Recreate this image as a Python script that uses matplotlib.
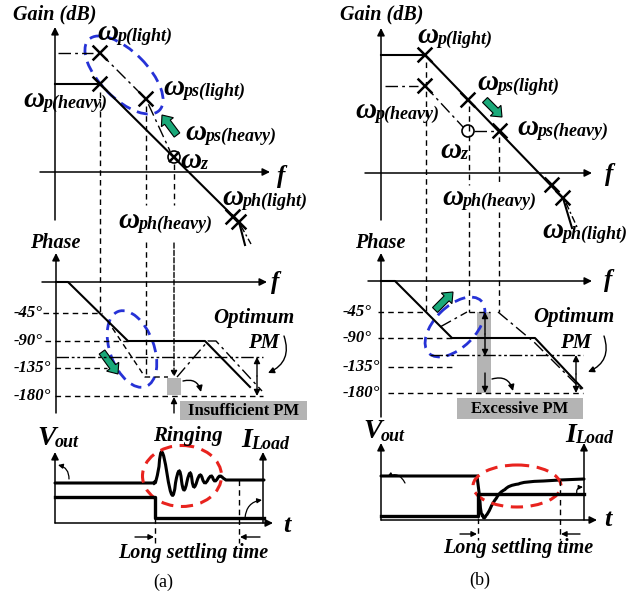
import numpy as np
import matplotlib.pyplot as plt
from matplotlib.patches import Ellipse, Rectangle, FancyArrow, Circle, PathPatch
from matplotlib.path import Path

plt.rcParams['font.family'] = ['Liberation Serif', 'DejaVu Serif']

# all coordinates are pixels of the sketch (y grows downwards)

# ---------------- (a) gain ----------------
a_gain_solid_x = [55, 100, 239, 245]
a_gain_solid_y = [84, 84, 222, 245]
a_gain_light_x = [100, 146, 170]
a_gain_light_y = [53, 99, 151]
a_gain_tail_x = [241, 251]
a_gain_tail_y = [226, 244]
a_gain_cross_x = [100, 100, 146, 233, 239]
a_gain_cross_y = [53, 84, 99, 217, 222]
a_zero = (174, 157)
a_omega_x = [97, 23, 163, 185, 180, 222, 118]
a_omega_y = [40, 107, 95, 140, 168, 205, 228]
a_omega_sub = ['p(light)', 'p(heavy)', 'ps(light)', 'ps(heavy)', 'z', 'ph(light)', 'ph(heavy)']

# ---------------- (b) gain ----------------
b_gain_solid_x = [381, 425, 563, 572]
b_gain_solid_y = [55, 55, 198, 228]
b_gain_heavy_x = [425, 463]
b_gain_heavy_y = [86, 127]
b_gain_tail_x = [566, 577]
b_gain_tail_y = [203, 227]
b_gain_cross_x = [425, 425, 468, 500, 552, 563]
b_gain_cross_y = [55, 86, 100, 131, 185, 198]
b_zero = (468, 131)
b_omega_x = [417, 355, 477, 517, 440, 442, 542]
b_omega_y = [43, 118, 90, 135, 158, 205, 238]
b_omega_sub = ['p(light)', 'p(heavy)', 'ps(light)', 'ps(heavy)', 'z', 'ph(heavy)', 'ph(light)']

# ---------------- phase ----------------
phase_ticks = ['-45°', '-90°', '-135°', '-180°']
a_tick_y = [313, 341, 368, 396]
a_tick_x0 = [43, 45, 55, 55]
a_tick_x1 = [102, 128, 107, 263]
b_tick_y = [312, 338, 367, 393]
b_tick_x0 = [378, 378, 388, 388]
b_tick_x1 = [427, 452, 453, 583]

a_phase_solid_x = [56, 68, 128, 205, 250]
a_phase_solid_y = [282, 282, 341, 341, 387]
a_phase_light_x = [107, 145, 168]
a_phase_light_y = [320, 377, 377]
a_phase_dd_x = [177, 208, 216, 262]
a_phase_dd_y = [377, 341, 341, 391]

b_phase_solid_x = [381, 395, 452, 535, 582]
b_phase_solid_y = [281, 281, 338, 338, 388]
b_phase_heavy_x = [440, 467]
b_phase_heavy_y = [327, 312]
b_phase_dd_x = [498, 535, 584]
b_phase_dd_y = [312, 343, 392]

# ---------------- load transients ----------------
a_ring_x = [55, 153, 156, 162, 172, 179, 184, 190, 194, 200, 205, 211, 215, 220, 226, 264]
a_ring_y = [483, 483, 481, 452, 495, 471, 490, 473, 487, 475, 483, 476, 481, 476, 480, 480]
a_load_x = [55, 155, 155, 264]
a_load_y = [497, 497, 518, 518]

b_vout_x = [381, 477, 479, 481, 484, 488, 493, 500, 510, 527, 560, 584]
b_vout_y = [476, 476, 492, 512, 518, 513, 503, 493, 486, 482, 480, 479]
b_load_x = [381, 478, 478, 584]
b_load_y = [516, 516, 494, 494]

GREEN = '#1aa979'
BLUE = '#2632d6'
RED = '#e8231e'
GREY = '#b4b4b4'
bi = dict(fontweight='bold', style='italic')

fig = plt.figure(figsize=(6.44, 5.96), dpi=100)
ax = fig.add_axes([0, 0, 1, 1])
ax.set_xlim(0, 644)
ax.set_ylim(596, 0)
ax.axis('off')
renderer = fig.canvas.get_renderer()


def arrow(x0, y0, x1, y1, lw=1.1, ms=11, style='-|>', ls='-', cs='arc3'):
    ax.annotate('', xy=(x1, y1), xytext=(x0, y0),
                arrowprops=dict(arrowstyle=style, color='k', lw=lw, mutation_scale=ms,
                                shrinkA=0, shrinkB=0, linestyle=ls, connectionstyle=cs))


def cross(x, y, s=6.5):
    ax.plot([x - s, x + s], [y - s, y + s], color='k', lw=1.8)
    ax.plot([x - s, x + s], [y + s, y - s], color='k', lw=1.8)


def label(x, y, big, sub, fs=21, sfs=13, dy=1):
    t = ax.text(x, y, big, fontsize=fs, va='baseline', ha='left', **bi)
    w = t.get_window_extent(renderer).width
    ax.text(x + w - 1, y + dy, sub, fontsize=sfs, va='baseline', ha='left', **bi)


def smooth(xs, ys, lw=2.0):
    pts = np.column_stack([xs, ys]).astype(float)
    verts = [pts[0], pts[1]]
    codes = [Path.MOVETO, Path.LINETO]
    for i in range(2, len(pts) - 2):
        m1 = (pts[i - 1] + pts[i]) / 2
        m2 = (pts[i] + pts[i + 1]) / 2
        ctrl = 2 * pts[i] - 0.5 * (m1 + m2)
        if i == 2:
            verts.append(m1)
            codes.append(Path.LINETO)
        verts += [ctrl, m2]
        codes += [Path.CURVE3, Path.CURVE3]
    verts += [pts[-2], pts[-1]]
    codes += [Path.LINETO, Path.LINETO]
    ax.add_patch(PathPatch(Path(verts, codes), fill=False, lw=lw, ec='k', capstyle='round'))


DASH = (0, (4, 3))
DASHDOT = (0, (9, 3, 2, 3))
DASHDOTDOT = (0, (9, 2, 2, 2, 2, 2))

# ================= gain plots =================
arrow(55, 220, 55, 27)
arrow(381, 220, 381, 28)
arrow(40, 172, 270, 172)
arrow(365, 173, 592, 173)
ax.text(13, 19, 'Gain (dB)', fontsize=14.5, **bi)
ax.text(340, 19, 'Gain (dB)', fontsize=14.5, **bi)
ax.text(281, 176, 'f', fontsize=18, ha='center', va='center', **bi)
ax.text(609, 175, 'f', fontsize=18, ha='center', va='center', **bi)

# (a)
ax.plot(a_gain_solid_x, a_gain_solid_y, color='k', lw=1.5)
ax.plot([58, 93], [53, 53], color='k', lw=1, ls=DASHDOT)
ax.plot(a_gain_light_x, a_gain_light_y, color='k', lw=1, ls=DASHDOT)
ax.plot(a_gain_tail_x, a_gain_tail_y, color='k', lw=1, ls=(0, (5, 2, 1.5, 2)))
for x, y in zip(a_gain_cross_x, a_gain_cross_y):
    cross(x, y)
ax.add_patch(Circle(a_zero, 6, fill=False, ec='k', lw=1.2))
cross(a_zero[0], a_zero[1], 4.2)
for x, y, s in zip(a_omega_x, a_omega_y, a_omega_sub):
    label(x, y, 'ω', s)
ax.add_patch(Ellipse((124, 75), 100, 47, angle=45, fill=False, ec=BLUE, lw=2, ls=(0, (4, 2.5))))
ax.add_patch(FancyArrow(177, 135, -15, -20, width=7, head_width=15, head_length=9,
                        length_includes_head=True, fc=GREEN, ec='k', lw=0.8))
# (b)
ax.plot(b_gain_solid_x, b_gain_solid_y, color='k', lw=1.5)
ax.plot([385, 418], [86, 86], color='k', lw=1, ls=DASHDOT)
ax.plot(b_gain_heavy_x, b_gain_heavy_y, color='k', lw=1, ls=DASHDOT)
ax.plot([474, 494], [131, 131], color='k', lw=1, ls=DASHDOT)
ax.plot(b_gain_tail_x, b_gain_tail_y, color='k', lw=1, ls=(0, (5, 2, 1.5, 2)))
for x, y in zip(b_gain_cross_x, b_gain_cross_y):
    cross(x, y)
ax.add_patch(Circle(b_zero, 6, fill=False, ec='k', lw=1.2))
for x, y, s in zip(b_omega_x, b_omega_y, b_omega_sub):
    label(x, y, 'ω', s)
ax.add_patch(FancyArrow(485, 100, 17, 17, width=7, head_width=15, head_length=9,
                        length_includes_head=True, fc=GREEN, ec='k', lw=0.8))

# vertical guide lines
for x, y0, y1 in [(100, 92, 313), (146, 106, 205), (146, 242, 377), (174, 164, 205),
                  (426, 62, 312), (469, 106, 185), (469, 212, 312), (499, 137, 185), (499, 212, 312)]:
    ax.plot([x, x], [y0, y1], color='k', lw=1, ls=DASH)
arrow(174, 243, 174, 377, lw=1, ls='--', ms=9)

# ================= phase plots =================
arrow(56, 413, 56, 253)
arrow(381, 417, 381, 253)
arrow(42, 282, 267, 282)
arrow(368, 281, 592, 281)
ax.text(30, 248, 'Phase', fontsize=14.5, **bi)
ax.text(355, 248, 'Phase', fontsize=14.5, **bi)
ax.text(275, 282, 'f', fontsize=18, ha='center', va='center', **bi)
ax.text(608, 281, 'f', fontsize=18, ha='center', va='center', **bi)

for lab, y, x0, x1 in zip(phase_ticks, a_tick_y, a_tick_x0, a_tick_x1):
    ax.text(14, y, lab, fontsize=12, va='center', **bi)
    ax.plot([x0, x1], [y, y], color='k', lw=1, ls=DASH)
for lab, y, x0, x1 in zip(phase_ticks, b_tick_y, b_tick_x0, b_tick_x1):
    ax.text(343, y, lab, fontsize=12, va='center', **bi)
    ax.plot([x0, x1], [y, y], color='k', lw=1, ls=DASH)
ax.plot([469, 490], [312, 312], color='k', lw=1, ls=DASH)
ax.plot([56, 263], [357, 357], color='k', lw=1, ls=DASHDOTDOT)
ax.plot([430, 583], [355, 355], color='k', lw=1, ls=DASHDOTDOT)

# (a)
ax.plot(a_phase_solid_x, a_phase_solid_y, color='k', lw=1.5)
ax.plot(a_phase_light_x, a_phase_light_y, color='k', lw=1, ls=DASH)
ax.plot(a_phase_dd_x, a_phase_dd_y, color='k', lw=1, ls=DASHDOT)
ax.add_patch(Rectangle((167, 378), 14, 17, fc=GREY, ec='none'))
arrow(174, 413, 174, 397, lw=1, ms=9)
arrow(183, 381, 201, 392, lw=1, ms=9, cs='arc3,rad=-0.5')
ax.add_patch(Rectangle((180, 401), 127, 19, fc=GREY, ec='none'))
ax.text(243.5, 411, 'Insufficient PM', fontsize=12, fontweight='bold', ha='center', va='center')
ax.text(213, 323, 'Optimum', fontsize=15, **bi)
ax.text(248, 348, 'PM', fontsize=15, **bi)
arrow(257, 376, 257, 357, lw=1, ms=9)
arrow(257, 376, 257, 396, lw=1, ms=9)
arrow(284, 336, 268, 373, lw=1, ms=9, cs='arc3,rad=-0.45')
ax.add_patch(Ellipse((132, 349), 80, 44, angle=70, fill=False, ec=BLUE, lw=2, ls=(0, (4, 2.5))))
ax.add_patch(FancyArrow(102, 352, 16, 22, width=7, head_width=15, head_length=9,
                        length_includes_head=True, fc=GREEN, ec='k', lw=0.8))
# (b)
ax.plot(b_phase_solid_x, b_phase_solid_y, color='k', lw=1.5)
ax.plot(b_phase_heavy_x, b_phase_heavy_y, color='k', lw=1, ls=DASHDOT)
ax.plot(b_phase_dd_x, b_phase_dd_y, color='k', lw=1, ls=DASHDOT)
ax.add_patch(Rectangle((477, 312), 14, 81, fc=GREY, ec='none'))
arrow(485, 334, 485, 312, lw=1, ms=9)
arrow(485, 334, 485, 356, lw=1, ms=9)
arrow(485, 373, 485, 393, lw=1, ms=9)
arrow(492, 379, 513, 391, lw=1, ms=9, cs='arc3,rad=-0.5')
ax.add_patch(Rectangle((457, 398), 126, 21, fc=GREY, ec='none'))
ax.text(520, 409, 'Excessive PM', fontsize=12, fontweight='bold', ha='center', va='center')
ax.text(533, 322, 'Optimum', fontsize=15, **bi)
ax.text(560, 348, 'PM', fontsize=15, **bi)
arrow(576, 374, 576, 355, lw=1, ms=9)
arrow(576, 374, 576, 393, lw=1, ms=9)
arrow(604, 336, 588, 372, lw=1, ms=9, cs='arc3,rad=-0.45')
ax.add_patch(Ellipse((455, 327), 74, 41, angle=-45, fill=False, ec=BLUE, lw=2, ls=(0, (4, 2.5))))
ax.add_patch(FancyArrow(435, 310, 18, -18, width=7, head_width=15, head_length=9,
                        length_includes_head=True, fc=GREEN, ec='k', lw=0.8))

# ================= load transient =================
# (a)
arrow(55, 523, 55, 452)
arrow(263, 523, 263, 452)
arrow(55, 523, 273, 523)
smooth(a_ring_x, a_ring_y, lw=2.2)
ax.plot(a_load_x, a_load_y, color='k', lw=2.4)
ax.add_patch(Ellipse((182, 476), 79, 61, fill=False, ec=RED, lw=2.2, ls=(0, (4, 2.5))))
label(37, 445, 'V', 'out', fs=20, sfs=13, dy=2)
label(241, 447, 'I', 'Load', fs=20, sfs=13, dy=2)
ax.text(153, 441, 'Ringing', fontsize=15, **bi)
ax.text(287, 525, 't', fontsize=19, ha='center', va='center', **bi)
arrow(69, 479, 58, 465, lw=0.9, ms=7, cs='arc3,rad=0.4')
arrow(245, 518, 262, 500, lw=0.9, ms=7, cs='arc3,rad=-0.4')
ax.plot([239, 239], [480, 543], color='k', lw=1, ls=DASH)
ax.plot([155, 155], [518, 543], color='k', lw=1, ls=DASH)
arrow(135, 537, 154, 537, lw=1, ms=8)
arrow(260, 537, 240, 537, lw=1, ms=8)
ax.text(118, 558, 'Long settling time', fontsize=14.5, **bi)
ax.text(163, 582, '(a)', fontsize=13, ha='center', va='center')

# (b)
arrow(381, 520, 381, 443)
arrow(584, 520, 584, 443)
arrow(381, 520, 597, 520)
smooth(b_vout_x, b_vout_y, lw=2.2)
ax.plot(b_load_x, b_load_y, color='k', lw=2.4)
ax.add_patch(Ellipse((517, 486), 88, 42, fill=False, ec=RED, lw=2.2, ls=(0, (4, 2.5))))
label(363, 438, 'V', 'out', fs=20, sfs=13, dy=3)
label(565, 442, 'I', 'Load', fs=20, sfs=13, dy=1)
ax.text(608, 519, 't', fontsize=19, ha='center', va='center', **bi)
arrow(405, 483, 387, 477, lw=0.9, ms=7, cs='arc3,rad=0.5')
arrow(577, 495, 583, 487, lw=0.9, ms=6, cs='arc3,rad=-0.6')
ax.plot([560, 560], [480, 540], color='k', lw=1, ls=DASH)
ax.plot([478, 478], [518, 540], color='k', lw=1, ls=DASH)
arrow(460, 534, 477, 534, lw=1, ms=8)
arrow(580, 534, 561, 534, lw=1, ms=8)
ax.text(443, 553, 'Long settling time', fontsize=14.5, **bi)
ax.text(480, 580, '(b)', fontsize=13, ha='center', va='center')

fig.savefig('out.png', dpi=100)
